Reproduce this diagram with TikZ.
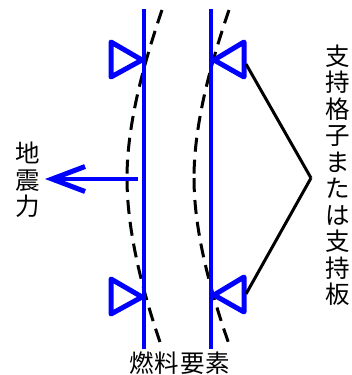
\documentclass[tikz,border=0pt]{standalone}
\usepackage{fontspec}
\setmainfont{Noto Sans CJK JP}
\usepackage{tikz}
\usetikzlibrary{arrows.meta}
\tikzset{>/.tip={Straight Barb[length=33pt,width=25pt,line width=5pt]}}
\tikzset{rod/.style={draw=blue,line width=4pt},
  support/.style={draw=blue,line width=5pt,line join=round},
  bowed/.style={draw=black,line width=3pt,dash pattern=on 14pt off 8pt},
  brace/.style={draw=black,line width=3pt},
  label/.style={font=\fontsize{24.5}{26.5}\selectfont,align=center,inner sep=0pt}}

\begin{document}
\begin{tikzpicture}[x=1pt,y=-1pt]
\useasboundingbox (0,0) rectangle (351,375);

\coordinate (leftTop) at (144,9);
\coordinate (leftBot) at (144,349);
\coordinate (rightTop) at (211,9);
\coordinate (rightBot) at (211,349);

\coordinate (apex) at (311,178);
\coordinate (braceA) at (246,64);
\coordinate (braceB) at (246,294);
\coordinate (arrowFrom) at (138,179);
\coordinate (arrowTo) at (45,179);

\coordinate (bowA1) at (162,10);
\coordinate (bowA2) at (127,178);
\coordinate (bowA3) at (162,348);
\coordinate (bowB1) at (229,10);
\coordinate (bowB2) at (194,178);
\coordinate (bowB3) at (230,347);

\node[label] (force) at (28,180) {地\\震\\力};
\node[label] (grid) at (338,175) {支\\持\\格\\子\\ま\\た\\は\\支\\持\\板};
\node[label] (fuel) at (180,363) {燃\hspace{1pt}料\hspace{1pt}要\hspace{1pt}素};

% bowed rods
\draw[bowed] (bowA1) .. controls (145,60) and (127,122) .. (bowA2);
\draw[bowed] (bowA2) .. controls (127,234) and (144,296) .. (bowA3);
\draw[bowed] (bowB1) .. controls (212,60) and (194,122) .. (bowB2);
\draw[bowed] (bowB2) .. controls (194,234) and (212,296) .. (bowB3);

\draw[rod] (leftTop) to (leftBot);
\draw[rod] (rightTop) to (rightBot);

\draw[support] (111,42) -- (142,60) -- (111,77) -- cycle;
\draw[support] (111,279) -- (142,297) -- (111,314) -- cycle;
\draw[support] (244,42) -- (214,60) -- (244,77) -- cycle;
\draw[support] (244,277) -- (214,295) -- (244,312) -- cycle;

\draw[brace] (braceA) to (apex);
\draw[brace] (apex) to (braceB);

\draw[rod,->] (arrowFrom) to (arrowTo);
\end{tikzpicture}
\end{document}
